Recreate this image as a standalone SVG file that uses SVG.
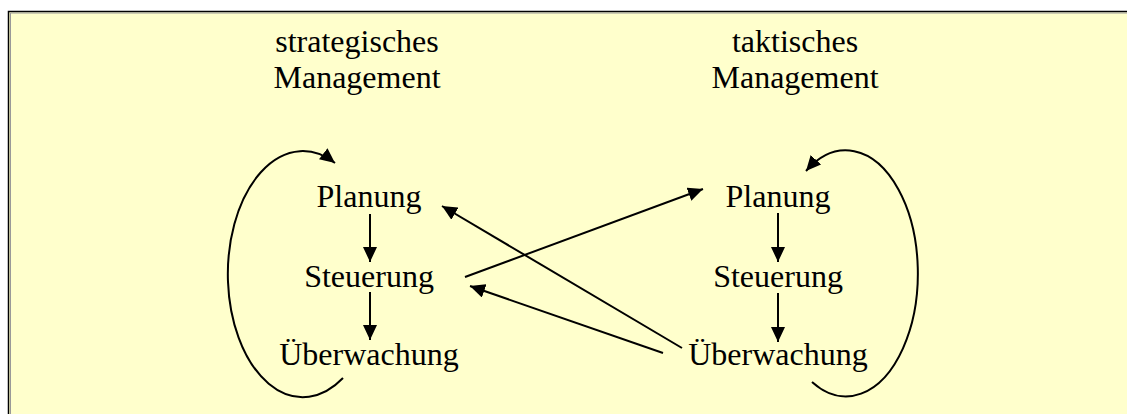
<svg xmlns="http://www.w3.org/2000/svg" width="1127" height="414" viewBox="0 0 1127 414">
<style>
.t{font-family:"Liberation Serif","Times New Roman",serif;font-size:32px;fill:#000;text-anchor:middle}
.c{stroke:#000;stroke-width:2;fill:none}
</style>
<defs>
<marker id="ah" markerUnits="userSpaceOnUse" markerWidth="16" markerHeight="14" refX="15" refY="7" orient="auto">
<path d="M0,0 L15,7 L0,14 z" fill="#000"/>
</marker>
</defs>
<rect x="8.5" y="11.5" width="1130" height="420" fill="#FFFFCC" stroke="#000" stroke-width="1.5"/>
<path d="M10.5,13 V414 M10.5,13 H1127" stroke="#999" stroke-width="1" fill="none"/>
<g id="hdr-strat"><text class="t" x="357" y="52">strategisches</text><text class="t" x="357" y="88">Management</text></g>
<g id="hdr-takt"><text class="t" x="795" y="52">taktisches</text><text class="t" x="795" y="88">Management</text></g>
<g id="s-plan"><text class="t" x="369" y="207">Planung</text></g>
<g id="s-steu"><text class="t" x="369" y="287">Steuerung</text></g>
<g id="s-ueb"><text class="t" x="369" y="365">Überwachung</text></g>
<g id="t-plan"><text class="t" x="778" y="207">Planung</text></g>
<g id="t-steu"><text class="t" x="778" y="287">Steuerung</text></g>
<g id="t-ueb"><text class="t" x="778" y="365">Überwachung</text></g>
<g id="connectors">
<path class="c" d="M370,214 V262" marker-end="url(#ah)"/>
<path class="c" d="M370,292 V340" marker-end="url(#ah)"/>
<path class="c" d="M778,213 V262" marker-end="url(#ah)"/>
<path class="c" d="M778,293 V342" marker-end="url(#ah)"/>
<path class="c" d="M465,277 L703,189" marker-end="url(#ah)"/>
<path class="c" d="M682,348 L442,206" marker-end="url(#ah)"/>
<path class="c" d="M663,353 L470,286" marker-end="url(#ah)"/>
<path class="c" d="M343,378 A75,123 0 1 1 335,163" marker-end="url(#ah)"/>
<path class="c" d="M812,382 A72,123 0 1 0 806,171" marker-end="url(#ah)"/>
</g>
</svg>
